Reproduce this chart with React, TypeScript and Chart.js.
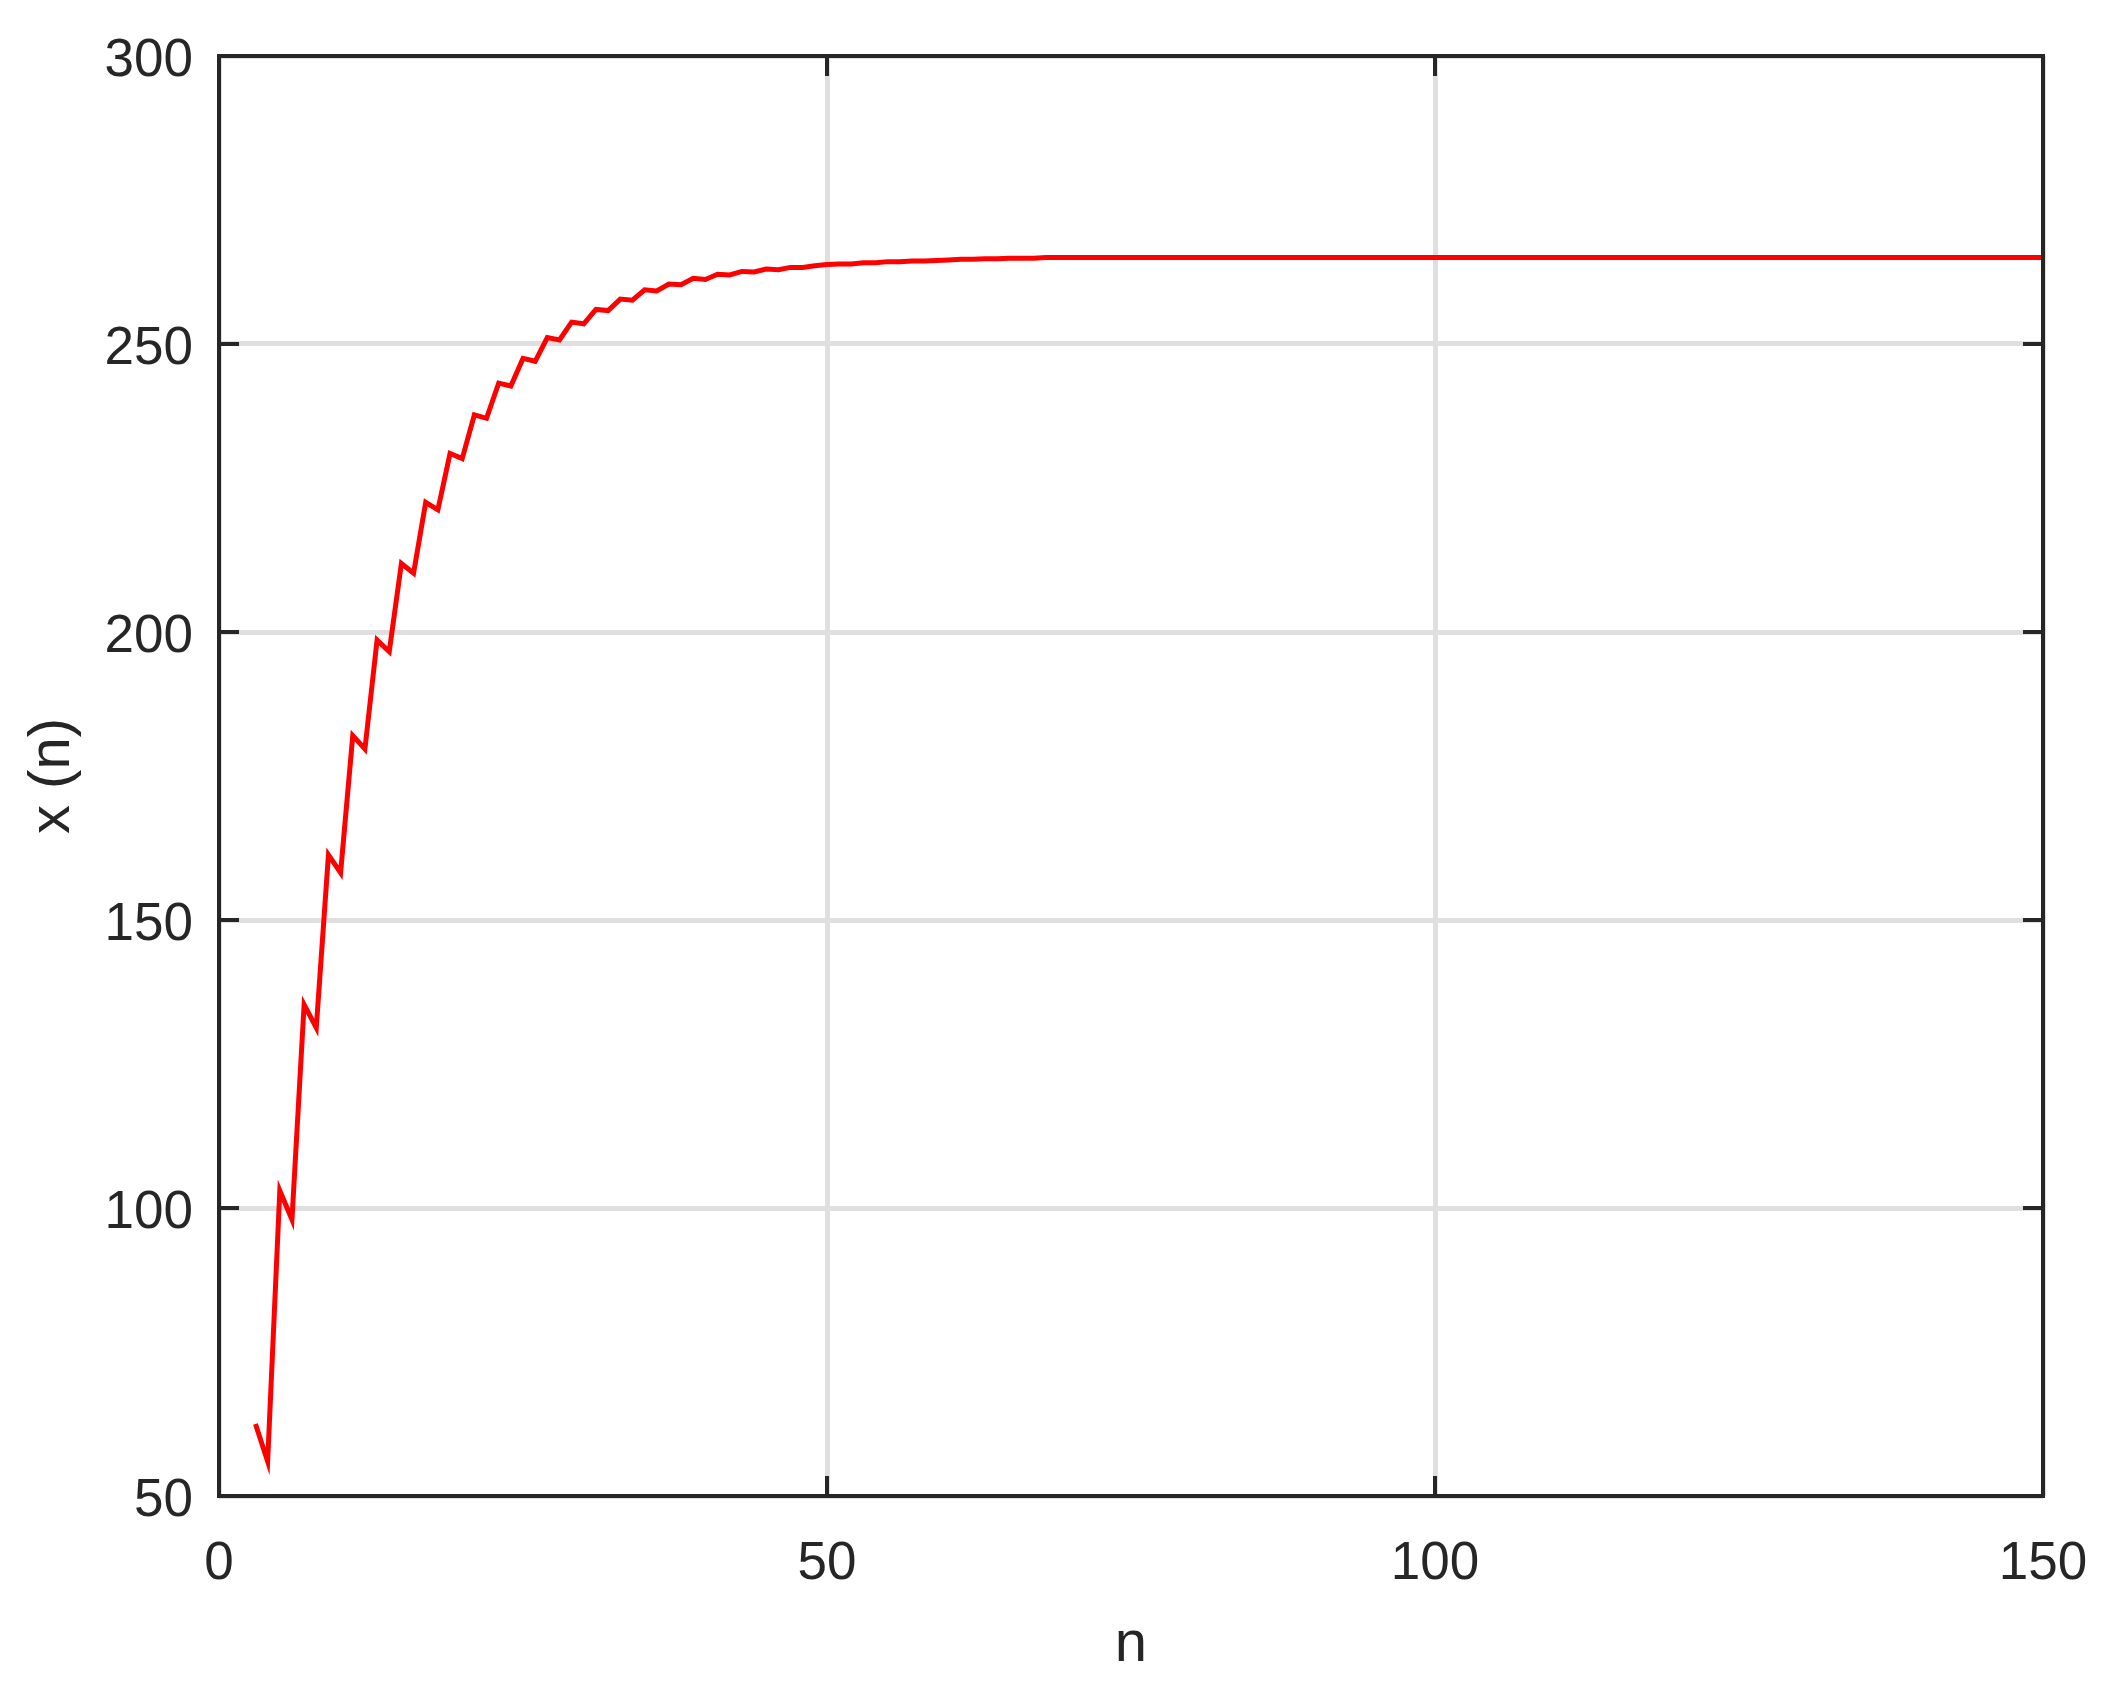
import React, { useEffect, useRef } from "react";
import { Chart, registerables } from "chart.js";

Chart.register(...registerables);

// n starts at 3 and increases by 1 for every entry of X_VALUES
const N_START = 3;

// x(n) values, n = 3 .. 150
const X_VALUES = [
  62.5, 56.0, 103.0, 98.0, 135.3, 131.3, 161.3, 158.2, 182.0, 179.7,
  198.6, 196.6, 211.9, 210.2, 222.5, 221.2, 231.0, 230.1, 237.7, 237.1,
  243.2, 242.7, 247.5, 247.0, 251.1, 250.7, 253.8, 253.5, 256.0, 255.8,
  257.8, 257.6, 259.4, 259.2, 260.4, 260.3, 261.4, 261.2, 262.1, 262.0,
  262.6, 262.5, 263.0, 262.9, 263.3, 263.3, 263.6, 263.8, 263.9, 263.9,
  264.1, 264.1, 264.3, 264.3, 264.4, 264.4, 264.5, 264.6, 264.7, 264.7,
  264.8, 264.8, 264.9, 264.9, 264.9, 265.0, 265.0, 265.0, 265.0, 265.0,
  265.0, 265.0, 265.0, 265.0, 265.0, 265.0, 265.0, 265.0, 265.0, 265.0,
  265.0, 265.0, 265.0, 265.0, 265.0, 265.0, 265.0, 265.0, 265.0, 265.0,
  265.0, 265.0, 265.0, 265.0, 265.0, 265.0, 265.0, 265.0, 265.0, 265.0,
  265.0, 265.0, 265.0, 265.0, 265.0, 265.0, 265.0, 265.0, 265.0, 265.0,
  265.0, 265.0, 265.0, 265.0, 265.0, 265.0, 265.0, 265.0, 265.0, 265.0,
  265.0, 265.0, 265.0, 265.0, 265.0, 265.0, 265.0, 265.0, 265.0, 265.0,
  265.0, 265.0, 265.0, 265.0, 265.0, 265.0, 265.0, 265.0, 265.0, 265.0,
  265.0, 265.0, 265.0, 265.0, 265.0, 265.0, 265.0, 265.0,
];

const X_TICKS = [0, 50, 100, 150];
const Y_TICKS = [50, 100, 150, 200, 250, 300];
const X_TITLE = "n";
const Y_TITLE = "x (n)";

const FONT = "'Liberation Sans', Arial, Helvetica, sans-serif";
const INK = "#262626";

const framePlugin = {
  id: "frame",
  afterDatasetsDraw(chart: any) {
    const { ctx, chartArea } = chart;
    const { left, right, top, bottom } = chartArea;
    const xs = chart.scales.x;
    const ys = chart.scales.y;
    const tick = 20;
    ctx.save();
    ctx.strokeStyle = INK;
    ctx.lineWidth = 4;
    ctx.lineCap = "butt";
    ctx.beginPath();
    for (const v of X_TICKS) {
      const px = xs.getPixelForValue(v);
      ctx.moveTo(px, bottom);
      ctx.lineTo(px, bottom - tick);
      ctx.moveTo(px, top);
      ctx.lineTo(px, top + tick);
    }
    for (const v of Y_TICKS) {
      const py = ys.getPixelForValue(v);
      ctx.moveTo(left, py);
      ctx.lineTo(left + tick, py);
      ctx.moveTo(right, py);
      ctx.lineTo(right - tick, py);
    }
    ctx.stroke();
    ctx.lineJoin = "miter";
    ctx.strokeRect(left, top, right - left, bottom - top);
    ctx.restore();
  },
};

export default function App() {
  const ref = useRef<HTMLCanvasElement | null>(null);

  useEffect(() => {
    if (!ref.current) return;
    const points = X_VALUES.map((v, i) => ({ x: N_START + i, y: v }));
    const chart = new Chart(ref.current, {
      type: "line",
      data: {
        datasets: [
          {
            data: points,
            borderColor: "#ff0000",
            borderWidth: 5,
            pointRadius: 0,
            tension: 0,
            fill: false,
            borderJoinStyle: "miter",
          },
        ],
      },
      options: {
        animation: false,
        responsive: false,
        devicePixelRatio: 1,
        layout: { padding: { left: 0, top: 56, right: 73, bottom: 0 } },
        plugins: {
          legend: { display: false },
          tooltip: { enabled: false },
        },
        scales: {
          x: {
            type: "linear",
            min: 0,
            max: 150,
            afterFit: (s: any) => {
              s.height = 192;
              s.paddingLeft = 0;
              s.paddingRight = 0;
            },
            afterBuildTicks: (s: any) => {
              s.ticks = X_TICKS.map((v) => ({ value: v }));
            },
            ticks: {
              color: INK,
              font: { family: FONT, size: 53 },
              padding: 37,
              maxRotation: 0,
              autoSkip: false,
            },
            grid: { color: "#dfdfdf", lineWidth: 5, drawTicks: false },
            border: { display: false },
            title: {
              display: true,
              text: X_TITLE,
              color: INK,
              font: { family: FONT, size: 58 },
              padding: { top: 0, bottom: 8 },
            },
          },
          y: {
            type: "linear",
            min: 50,
            max: 300,
            afterFit: (s: any) => {
              s.width = 219;
              s.paddingTop = 0;
              s.paddingBottom = 0;
            },
            afterBuildTicks: (s: any) => {
              s.ticks = Y_TICKS.map((v) => ({ value: v }));
            },
            ticks: {
              color: INK,
              font: { family: FONT, size: 53 },
              padding: 26,
              labelOffset: 5,
              autoSkip: false,
            },
            grid: { color: "#dfdfdf", lineWidth: 5, drawTicks: false },
            border: { display: false },
            title: {
              display: true,
              text: Y_TITLE,
              color: INK,
              font: { family: FONT, size: 58 },
              padding: { top: 18, bottom: 0 },
            },
          },
        },
      },
      plugins: [framePlugin],
    });
    return () => chart.destroy();
  }, []);

  return (
    <div style={{ position: "absolute", left: 0, top: 0, width: 2116, height: 1688, background: "#fff" }}>
      <canvas ref={ref} width={2116} height={1688} style={{ display: "block", width: 2116, height: 1688 }} />
    </div>
  );
}
